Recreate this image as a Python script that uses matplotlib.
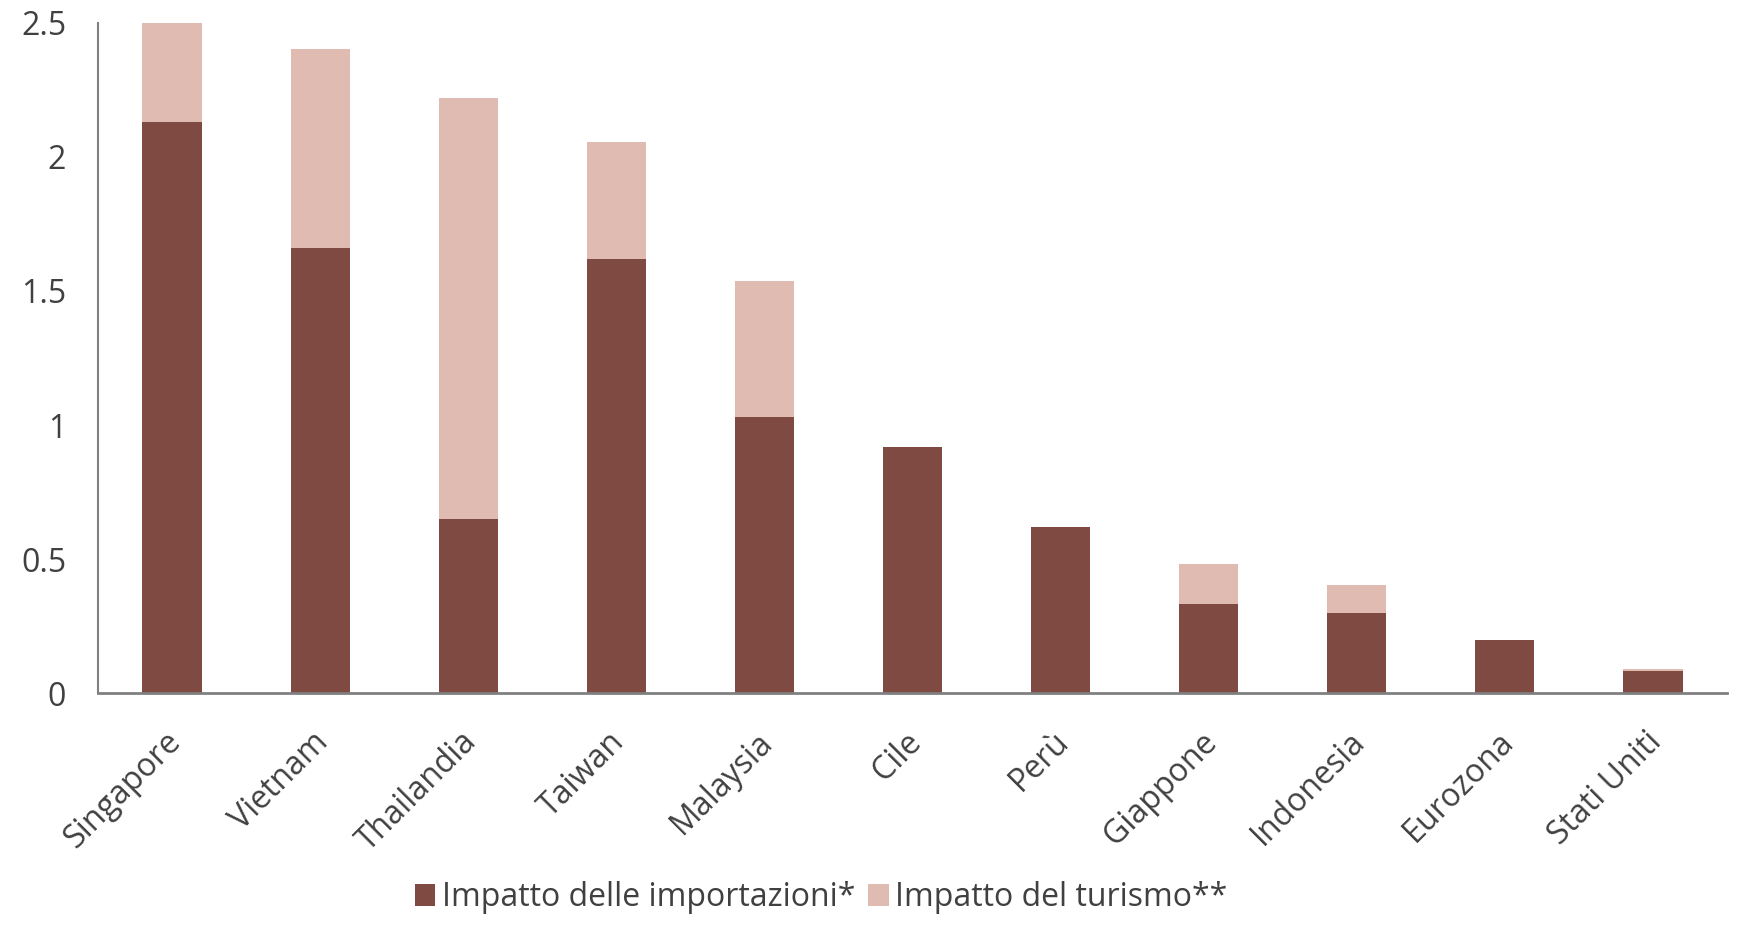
import matplotlib
matplotlib.use("Agg")
import matplotlib.pyplot as plt
import matplotlib.transforms as mtransforms
import numpy as np

categories = ["Singapore", "Vietnam", "Thailandia", "Taiwan", "Malaysia", "Cile",
              "Perù", "Giappone", "Indonesia", "Eurozona", "Stati Uniti"]
importazioni = [2.13, 1.66, 0.65, 1.62, 1.03, 0.92, 0.62, 0.335, 0.30, 0.20, 0.082]
turismo = [0.37, 0.74, 1.57, 0.435, 0.505, 0.0, 0.0, 0.146, 0.105, 0.0, 0.011]
yticks = [0, 0.5, 1, 1.5, 2, 2.5]
yticklabels = ["0", "0.5", "1", "1.5", "2", "2.5"]
series_names = ["Impatto delle importazioni*", "Impatto del turismo**"]

c_dark = "#7F4A41"
c_light = "#E0BBB2"
txt = "#404040"

plt.rcParams['font.family'] = ['Open Sans', 'DejaVu Sans']

fig = plt.figure(figsize=(17.54, 9.38), dpi=100)
ax = fig.add_axes([0.0559, 0.2607, 0.9287, 0.7153])

x = np.arange(len(categories))
b1 = ax.bar(x, importazioni, width=0.4, color=c_dark, label=series_names[0])
b2 = ax.bar(x, turismo, width=0.4, bottom=importazioni, color=c_light, label=series_names[1])

ax.set_xlim(-0.5, len(categories) - 0.5)
ax.set_ylim(0, 2.5)
ax.set_yticks(yticks)
ax.set_yticklabels(yticklabels)
ax.set_xticks(x)
ax.set_xticklabels(categories, rotation=45, ha='right', rotation_mode='anchor')
ax.tick_params(axis='both', length=0, labelsize=23, labelcolor=txt)
ax.tick_params(axis='y', pad=23)
ax.tick_params(axis='x', pad=23)

offset = mtransforms.ScaledTranslation(-8 / 100, 0, fig.dpi_scale_trans)
for lbl in ax.get_xticklabels():
    lbl.set_transform(lbl.get_transform() + offset)

for s in ['top', 'right']:
    ax.spines[s].set_visible(False)
ax.spines['left'].set_color('#808080')
ax.spines['left'].set_linewidth(1.5)
ax.spines['bottom'].set_color('#808080')
ax.spines['bottom'].set_linewidth(2)

leg = fig.legend(handles=[b1, b2], labels=series_names, loc='center',
                 bbox_to_anchor=(0.468, 0.043), ncol=2, frameon=False,
                 fontsize=23, handlelength=0.65, handleheight=0.65,
                 handletextpad=0.2, columnspacing=0.4, labelcolor=txt)

fig.savefig("out.png", dpi=100)
